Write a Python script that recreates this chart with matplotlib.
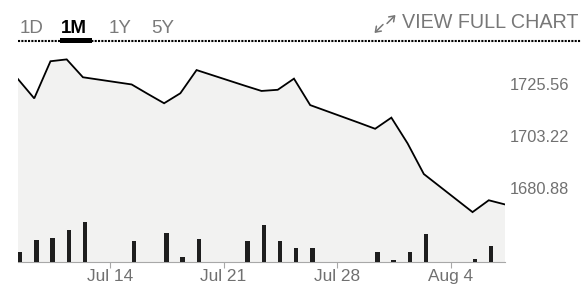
import numpy as np
import pandas as pd
import matplotlib
matplotlib.use('Agg')
import matplotlib.pyplot as plt
import matplotlib.dates as mdates
from matplotlib.lines import Line2D
from matplotlib.patches import Rectangle

plt.rcParams['font.family'] = ['Liberation Sans', 'DejaVu Sans']

# daily closes and volume, one month
dates = ['2024-07-08', '2024-07-09', '2024-07-10', '2024-07-11', '2024-07-12',
         '2024-07-15', '2024-07-16', '2024-07-17', '2024-07-18', '2024-07-19',
         '2024-07-22', '2024-07-23', '2024-07-24', '2024-07-25', '2024-07-26',
         '2024-07-29', '2024-07-30', '2024-07-31', '2024-08-01', '2024-08-02',
         '2024-08-05', '2024-08-06', '2024-08-07']
price = [1727.6, 1719.3, 1735.3, 1736.1, 1728.4,
         1725.3, 1721.2, 1717.2, 1721.5, 1731.5,
         1724.7, 1722.5, 1723.0, 1727.8, 1716.4,
         1708.8, 1706.2, 1711.0, 1699.9, 1686.7,
         1670.3, 1675.4, 1673.6]
volume = [970, 2200, 2430, 3170, 3970,
          2070, 0, 2900, 530, 2330,
          2100, 3700, 2130, 1400, 1400,
          0, 970, 200, 1000, 2770,
          330, 1600, 0]
price_labels = [1725.56, 1703.22, 1680.88]
tick_dates = ['2024-07-14', '2024-07-21', '2024-07-28', '2024-08-04']
tick_names = ['Jul 14', 'Jul 21', 'Jul 28', 'Aug 4']
tabs = ['1D', '1M', '1Y', '5Y']

W, H = 581, 289
t = pd.to_datetime(dates) + pd.Timedelta(hours=8)
x = mdates.date2num(t)

fig = plt.figure(figsize=(W / 100, H / 100), dpi=100)

def fx(px):
    return px / W

def fy(py):
    return 1 - py / H

ax = fig.add_axes([fx(18), fy(262), fx(505) - fx(18), fy(45) - fy(262)])
ax.fill_between(x, price, 1600, color='#f2f2f1', lw=0)
ax.plot(x, price, color='black', lw=1.3, solid_joinstyle='miter')
ax.set_xlim(x[0], x[-1])
ax.set_ylim(1648.8, 1742.3)

# volume bars on a second scale
ax2 = ax.twinx()
ax2.bar(x, volume, width=0.277, align='edge', color='#1e1e1e', lw=0)
ax2.set_ylim(0, 21700)
ax2.set_xlim(x[0], x[-1])
ax2.axis('off')

for s in ['top', 'left', 'right']:
    ax.spines[s].set_visible(False)
ax.spines['bottom'].set_color('#a8a8a8')
ax.spines['bottom'].set_linewidth(0.8)
ax.set_xticks(mdates.date2num(pd.to_datetime(tick_dates)))
ax.set_xticklabels(tick_names)
ax.tick_params(axis='x', length=4, width=0.8, color='#a8a8a8', labelsize=12.4,
               labelcolor='#707070', pad=1)
ax.set_yticks(price_labels)
ax.set_yticklabels(['%.2f' % v for v in price_labels])
ax.yaxis.tick_right()
ax.tick_params(axis='y', length=0, labelsize=11.8, labelcolor='#707070', pad=3.5)

# top menu
tab_x = [20, 61, 109, 151]
for name, px in zip(tabs, tab_x):
    if name == '1M':
        fig.text(fx(px), fy(33), name, fontsize=13.5, fontweight='bold', color='black',
                 ha='left', va='baseline')
    else:
        fig.text(fx(px), fy(33), name, fontsize=13.5, color='#7a7a7a',
                 ha='left', va='baseline')
fig.text(fx(579), fy(28), 'VIEW FULL CHART', fontsize=14.2, color='#777777',
         ha='right', va='baseline')

fig.add_artist(Line2D([fx(18), fx(581)], [fy(40.5), fy(40.5)], color='black', lw=1.5,
                      dashes=(1, 0.6)))
fig.add_artist(Rectangle((fx(60), fy(43)), fx(92) - fx(60), fy(38.5) - fy(43),
                         color='black', lw=0, transform=fig.transFigure))

# expand icon
for (x0, y0, x1, y1) in [(383, 24.5, 374.5, 33), (387, 23.5, 395.5, 15)]:
    fig.add_artist(plt.Annotation('', xy=(fx(x1), fy(y1)), xytext=(fx(x0), fy(y0)),
                                  xycoords='figure fraction',
                                  arrowprops=dict(arrowstyle='->,head_length=0.35,head_width=0.25',
                                                  color='#777777', lw=1.1,
                                                  shrinkA=0, shrinkB=0)))

fig.savefig('out.png', dpi=100)
